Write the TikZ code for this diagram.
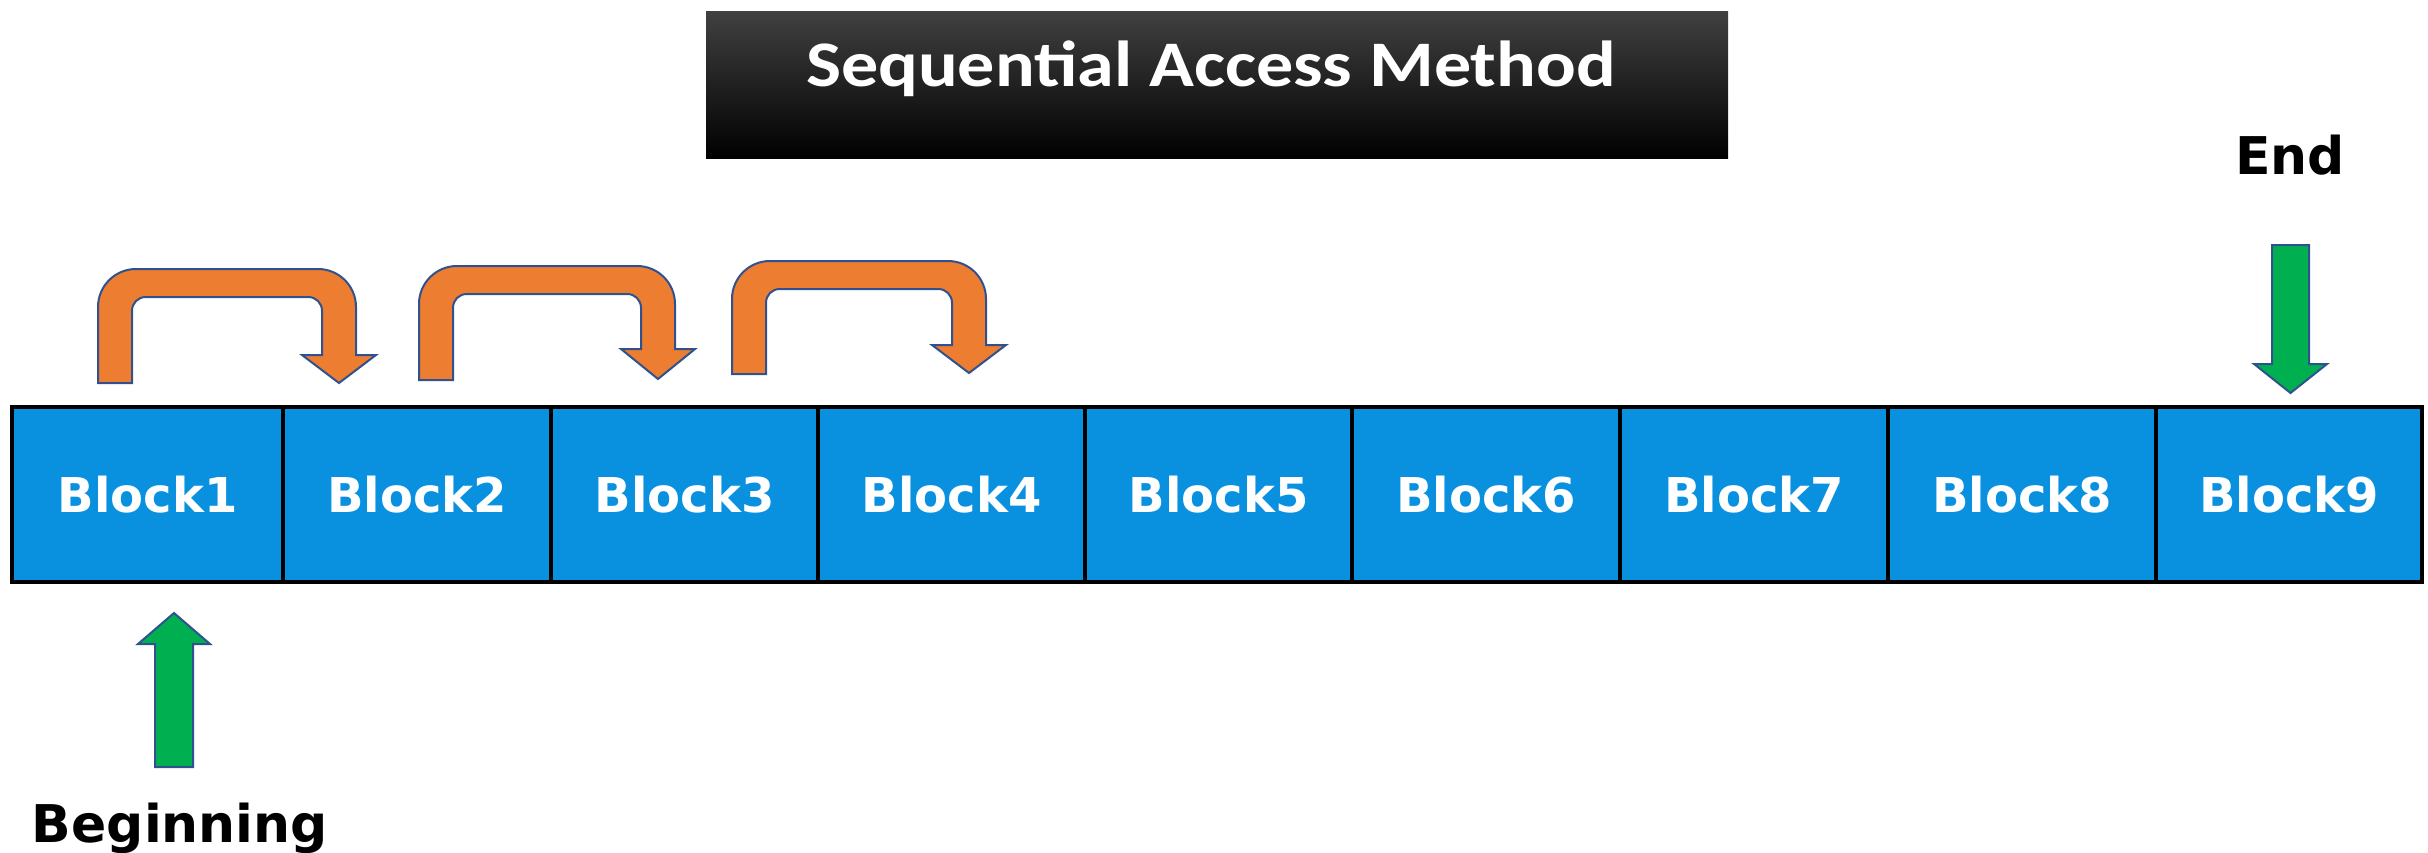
\documentclass[tikz,border=0pt]{standalone}
\usepackage{graphicx}
\usepackage{fontspec}
\newfontfamily\blockfamily{DejaVu Sans}
\newfontfamily\headfamily{Carlito}
\usetikzlibrary{calc}

\definecolor{blockblue}{RGB}{9,145,224}
\definecolor{turnorange}{RGB}{237,125,49}
\definecolor{shapeedge}{RGB}{47,82,143}
\definecolor{markgreen}{RGB}{0,176,80}
\definecolor{titletop}{RGB}{64,64,64}

% U-shaped jump arrow: #1 left edge, #2 right edge, #3 top, #4 foot of left stem,
% #5 base of the head, #6 tip of the head
\newcommand\uturnarrow[6]{%
  \draw[turnarrow] (#1,#4) -- (#1,{#3+38})
    .. controls (#1,{#3+17}) and ({#1+17},#3) .. ({#1+38},#3)
    -- ({#2-38},#3)
    .. controls ({#2-17},#3) and (#2,{#3+17}) .. (#2,{#3+38})
    -- (#2,#5) -- ({#2+20},#5) -- ({#2-17},#6) -- ({#2-54},#5) -- ({#2-34},#5)
    -- ({#2-34},{#3+42})
    .. controls ({#2-34},{#3+34}) and ({#2-40},{#3+28}) .. ({#2-48},{#3+28})
    -- ({#1+48},{#3+28})
    .. controls ({#1+40},{#3+28}) and ({#1+34},{#3+34}) .. ({#1+34},{#3+42})
    -- ({#1+34},#4) -- cycle;}

\begin{document}
\begin{tikzpicture}[x=1pt,y=-1pt,
  blockbox/.style={draw=black, line width=3.5pt, fill=blockblue, text=white,
    minimum height=175pt, inner sep=0pt,
    font=\blockfamily\bfseries\fontsize{48}{58}\selectfont},
  turnarrow/.style={fill=turnorange, draw=shapeedge, line width=2pt},
  markarrow/.style={fill=markgreen, draw=shapeedge, line width=2pt},
  marklabel/.style={font=\blockfamily\bfseries\fontsize{52}{62}\selectfont,
    anchor=base, inner sep=0pt},
  titlebox/.style={top color=titletop, middle color=black, bottom color=black,
    minimum width=1022pt, minimum height=147pt, inner sep=0pt},
  titlelabel/.style={text=white, anchor=base, inner sep=0pt,
    font=\headfamily\bfseries\fontsize{65}{78}\selectfont}]

\useasboundingbox (0,0) rectangle (2428,853);

% heading
\node[titlebox] (titlebox) at (1217,85.5) {};
\node[titlelabel] (titletext) at (1211,87) {\scalebox{1.14}[1]{Sequential Access Method}};

% row of blocks
\foreach \i/\l/\r in {1/12/283, 2/283/551, 3/551/818, 4/818/1085, 5/1085/1352,
                      6/1352/1620, 7/1620/1888, 8/1888/2156, 9/2156/2422}
  \node[blockbox, minimum width={\r-\l}] (b\i) at ({(\l+\r)/2},494.5) {Block\i};

% jumps from one block to the next
\uturnarrow{98}{356}{269}{383}{355}{383}
\uturnarrow{419}{675}{266}{380}{349}{379}
\uturnarrow{732}{986}{261}{374}{345}{373}

% end marker
\node[marklabel] (endlabel) at (2290,175) {End};
\draw[markarrow] (2272,245) -- (2309,245) -- (2309,364) -- (2327,364)
  -- (2290.5,393) -- (2254,364) -- (2272,364) -- cycle;

% beginning marker
\node[marklabel] (beginlabel) at (180,842) {Beginning};
\draw[markarrow] (155,767) -- (155,644) -- (138,644) -- (174,613)
  -- (210,644) -- (193,644) -- (193,767) -- cycle;

\end{tikzpicture}
\end{document}
